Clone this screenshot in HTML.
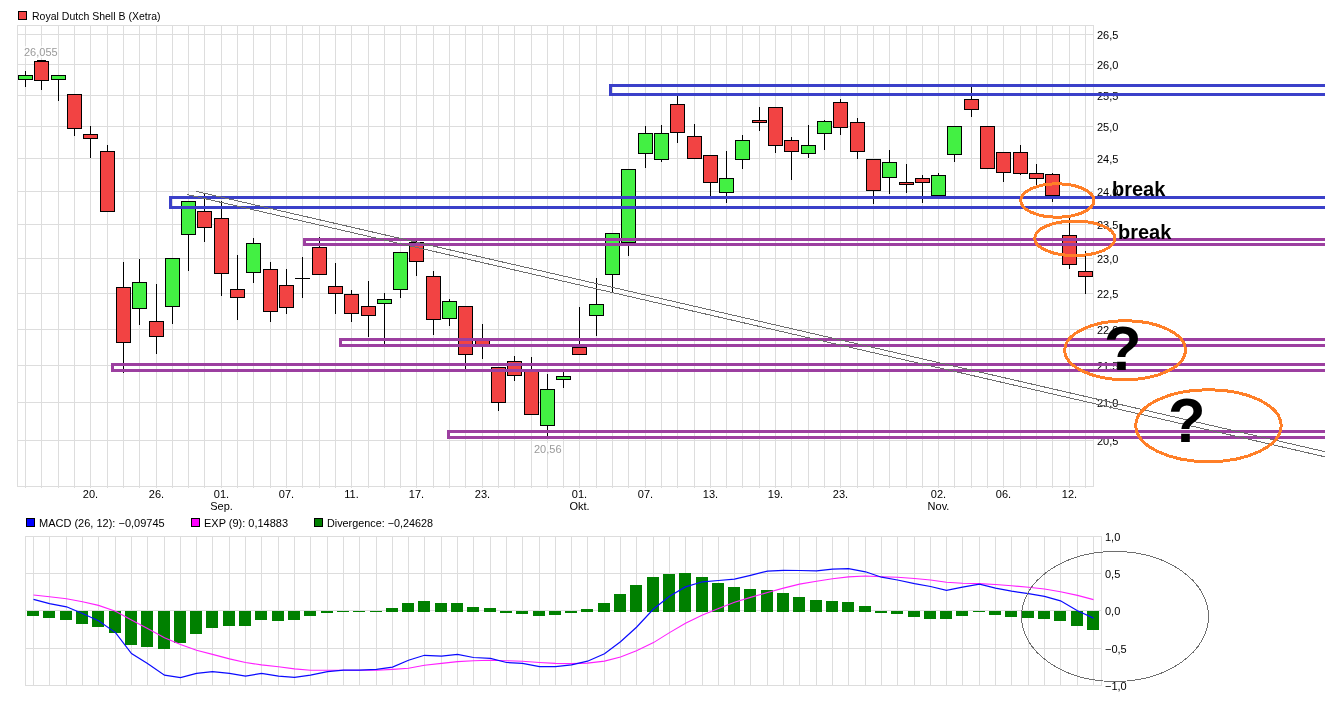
<!DOCTYPE html>
<html><head><meta charset="utf-8"><title>Royal Dutch Shell B (Xetra)</title>
<style>html,body{margin:0;padding:0;background:#fff;width:1325px;height:716px;overflow:hidden;position:relative;font-family:"Liberation Sans",sans-serif}</style>
</head><body>
<svg width="1325" height="716" viewBox="0 0 1325 716" style="position:absolute;left:0;top:0;will-change:transform">
<path d="M17 34.5H1093 M17 64.5H1093 M17 95.5H1093 M17 126.5H1093 M17 158.5H1093 M17 191.5H1093 M17 224.5H1093 M17 258.5H1093 M17 293.5H1093 M17 329.5H1093 M17 365.5H1093 M17 402.5H1093 M17 440.5H1093 M25.5 25V488 M41.5 25V488 M58.5 25V488 M74.5 25V488 M90.5 25V488 M107.5 25V488 M123.5 25V488 M139.5 25V488 M156.5 25V488 M172.5 25V488 M188.5 25V488 M204.5 25V488 M221.5 25V488 M237.5 25V488 M253.5 25V488 M270.5 25V488 M286.5 25V488 M302.5 25V488 M319.5 25V488 M335.5 25V488 M351.5 25V488 M368.5 25V488 M384.5 25V488 M400.5 25V488 M416.5 25V488 M433.5 25V488 M449.5 25V488 M465.5 25V488 M482.5 25V488 M498.5 25V488 M514.5 25V488 M531.5 25V488 M547.5 25V488 M563.5 25V488 M579.5 25V488 M596.5 25V488 M612.5 25V488 M628.5 25V488 M645.5 25V488 M661.5 25V488 M677.5 25V488 M694.5 25V488 M710.5 25V488 M726.5 25V488 M742.5 25V488 M759.5 25V488 M775.5 25V488 M791.5 25V488 M808.5 25V488 M824.5 25V488 M840.5 25V488 M857.5 25V488 M873.5 25V488 M889.5 25V488 M906.5 25V488 M922.5 25V488 M938.5 25V488 M954.5 25V488 M971.5 25V488 M987.5 25V488 M1003.5 25V488 M1020.5 25V488 M1036.5 25V488 M1052.5 25V488 M1069.5 25V488 M1085.5 25V488" stroke="#dddddd" stroke-width="1" fill="none" shape-rendering="crispEdges"/>
<rect x="17.5" y="25.5" width="1076" height="461" fill="none" stroke="#dddddd" stroke-width="1" shape-rendering="crispEdges"/>
<path d="M25.5 71V87" stroke="#000" stroke-width="1" shape-rendering="crispEdges"/>
<rect x="18.5" y="75.5" width="14" height="4" fill="#43f043" stroke="#000" stroke-width="1" shape-rendering="crispEdges"/>
<path d="M41.5 60V90" stroke="#000" stroke-width="1" shape-rendering="crispEdges"/>
<rect x="34.5" y="61.5" width="14" height="19" fill="#f24343" stroke="#000" stroke-width="1" shape-rendering="crispEdges"/>
<path d="M58.5 75V101" stroke="#000" stroke-width="1" shape-rendering="crispEdges"/>
<rect x="51.5" y="75.5" width="14" height="4" fill="#43f043" stroke="#000" stroke-width="1" shape-rendering="crispEdges"/>
<path d="M74.5 94V136" stroke="#000" stroke-width="1" shape-rendering="crispEdges"/>
<rect x="67.5" y="94.5" width="14" height="34" fill="#f24343" stroke="#000" stroke-width="1" shape-rendering="crispEdges"/>
<path d="M90.5 126V158" stroke="#000" stroke-width="1" shape-rendering="crispEdges"/>
<rect x="83.5" y="134.5" width="14" height="4" fill="#f24343" stroke="#000" stroke-width="1" shape-rendering="crispEdges"/>
<path d="M107.5 145V212" stroke="#000" stroke-width="1" shape-rendering="crispEdges"/>
<rect x="100.5" y="151.5" width="14" height="60" fill="#f24343" stroke="#000" stroke-width="1" shape-rendering="crispEdges"/>
<path d="M123.5 262V373" stroke="#000" stroke-width="1" shape-rendering="crispEdges"/>
<rect x="116.5" y="287.5" width="14" height="55" fill="#f24343" stroke="#000" stroke-width="1" shape-rendering="crispEdges"/>
<path d="M139.5 259V325" stroke="#000" stroke-width="1" shape-rendering="crispEdges"/>
<rect x="132.5" y="282.5" width="14" height="26" fill="#43f043" stroke="#000" stroke-width="1" shape-rendering="crispEdges"/>
<path d="M156.5 284V354" stroke="#000" stroke-width="1" shape-rendering="crispEdges"/>
<rect x="149.5" y="321.5" width="14" height="15" fill="#f24343" stroke="#000" stroke-width="1" shape-rendering="crispEdges"/>
<path d="M172.5 258V324" stroke="#000" stroke-width="1" shape-rendering="crispEdges"/>
<rect x="165.5" y="258.5" width="14" height="48" fill="#43f043" stroke="#000" stroke-width="1" shape-rendering="crispEdges"/>
<path d="M188.5 201V271" stroke="#000" stroke-width="1" shape-rendering="crispEdges"/>
<rect x="181.5" y="201.5" width="14" height="33" fill="#43f043" stroke="#000" stroke-width="1" shape-rendering="crispEdges"/>
<path d="M204.5 193V242" stroke="#000" stroke-width="1" shape-rendering="crispEdges"/>
<rect x="197.5" y="211.5" width="14" height="16" fill="#f24343" stroke="#000" stroke-width="1" shape-rendering="crispEdges"/>
<path d="M221.5 201V296" stroke="#000" stroke-width="1" shape-rendering="crispEdges"/>
<rect x="214.5" y="218.5" width="14" height="55" fill="#f24343" stroke="#000" stroke-width="1" shape-rendering="crispEdges"/>
<path d="M237.5 255V320" stroke="#000" stroke-width="1" shape-rendering="crispEdges"/>
<rect x="230.5" y="289.5" width="14" height="8" fill="#f24343" stroke="#000" stroke-width="1" shape-rendering="crispEdges"/>
<path d="M253.5 238V283" stroke="#000" stroke-width="1" shape-rendering="crispEdges"/>
<rect x="246.5" y="243.5" width="14" height="29" fill="#43f043" stroke="#000" stroke-width="1" shape-rendering="crispEdges"/>
<path d="M270.5 262V322" stroke="#000" stroke-width="1" shape-rendering="crispEdges"/>
<rect x="263.5" y="269.5" width="14" height="42" fill="#f24343" stroke="#000" stroke-width="1" shape-rendering="crispEdges"/>
<path d="M286.5 269V314" stroke="#000" stroke-width="1" shape-rendering="crispEdges"/>
<rect x="279.5" y="285.5" width="14" height="22" fill="#f24343" stroke="#000" stroke-width="1" shape-rendering="crispEdges"/>
<path d="M302.5 257V298" stroke="#000" stroke-width="1" shape-rendering="crispEdges"/>
<path d="M295 278.5H310" stroke="#000" stroke-width="1" shape-rendering="crispEdges"/>
<path d="M319.5 237V275" stroke="#000" stroke-width="1" shape-rendering="crispEdges"/>
<rect x="312.5" y="247.5" width="14" height="27" fill="#f24343" stroke="#000" stroke-width="1" shape-rendering="crispEdges"/>
<path d="M335.5 263V314" stroke="#000" stroke-width="1" shape-rendering="crispEdges"/>
<rect x="328.5" y="286.5" width="14" height="7" fill="#f24343" stroke="#000" stroke-width="1" shape-rendering="crispEdges"/>
<path d="M351.5 290V322" stroke="#000" stroke-width="1" shape-rendering="crispEdges"/>
<rect x="344.5" y="294.5" width="14" height="19" fill="#f24343" stroke="#000" stroke-width="1" shape-rendering="crispEdges"/>
<path d="M368.5 281V337" stroke="#000" stroke-width="1" shape-rendering="crispEdges"/>
<rect x="361.5" y="306.5" width="14" height="9" fill="#f24343" stroke="#000" stroke-width="1" shape-rendering="crispEdges"/>
<path d="M384.5 293V344" stroke="#000" stroke-width="1" shape-rendering="crispEdges"/>
<rect x="377.5" y="299.5" width="14" height="4" fill="#43f043" stroke="#000" stroke-width="1" shape-rendering="crispEdges"/>
<path d="M400.5 252V298" stroke="#000" stroke-width="1" shape-rendering="crispEdges"/>
<rect x="393.5" y="252.5" width="14" height="37" fill="#43f043" stroke="#000" stroke-width="1" shape-rendering="crispEdges"/>
<path d="M416.5 241V276" stroke="#000" stroke-width="1" shape-rendering="crispEdges"/>
<rect x="409.5" y="242.5" width="14" height="19" fill="#f24343" stroke="#000" stroke-width="1" shape-rendering="crispEdges"/>
<path d="M433.5 271V335" stroke="#000" stroke-width="1" shape-rendering="crispEdges"/>
<rect x="426.5" y="276.5" width="14" height="43" fill="#f24343" stroke="#000" stroke-width="1" shape-rendering="crispEdges"/>
<path d="M449.5 299V326" stroke="#000" stroke-width="1" shape-rendering="crispEdges"/>
<rect x="442.5" y="301.5" width="14" height="17" fill="#43f043" stroke="#000" stroke-width="1" shape-rendering="crispEdges"/>
<path d="M465.5 306V369" stroke="#000" stroke-width="1" shape-rendering="crispEdges"/>
<rect x="458.5" y="306.5" width="14" height="48" fill="#f24343" stroke="#000" stroke-width="1" shape-rendering="crispEdges"/>
<path d="M482.5 324V359" stroke="#000" stroke-width="1" shape-rendering="crispEdges"/>
<rect x="475.5" y="340.5" width="14" height="5" fill="#f24343" stroke="#000" stroke-width="1" shape-rendering="crispEdges"/>
<path d="M498.5 367V411" stroke="#000" stroke-width="1" shape-rendering="crispEdges"/>
<rect x="491.5" y="367.5" width="14" height="35" fill="#f24343" stroke="#000" stroke-width="1" shape-rendering="crispEdges"/>
<path d="M514.5 356V381" stroke="#000" stroke-width="1" shape-rendering="crispEdges"/>
<rect x="507.5" y="361.5" width="14" height="14" fill="#f24343" stroke="#000" stroke-width="1" shape-rendering="crispEdges"/>
<path d="M531.5 357V415" stroke="#000" stroke-width="1" shape-rendering="crispEdges"/>
<rect x="524.5" y="371.5" width="14" height="43" fill="#f24343" stroke="#000" stroke-width="1" shape-rendering="crispEdges"/>
<path d="M547.5 374V436" stroke="#000" stroke-width="1" shape-rendering="crispEdges"/>
<rect x="540.5" y="389.5" width="14" height="36" fill="#43f043" stroke="#000" stroke-width="1" shape-rendering="crispEdges"/>
<path d="M563.5 371V388" stroke="#000" stroke-width="1" shape-rendering="crispEdges"/>
<rect x="556.5" y="376.5" width="14" height="3" fill="#43f043" stroke="#000" stroke-width="1" shape-rendering="crispEdges"/>
<path d="M579.5 307V355" stroke="#000" stroke-width="1" shape-rendering="crispEdges"/>
<rect x="572.5" y="347.5" width="14" height="7" fill="#f24343" stroke="#000" stroke-width="1" shape-rendering="crispEdges"/>
<path d="M596.5 278V336" stroke="#000" stroke-width="1" shape-rendering="crispEdges"/>
<rect x="589.5" y="304.5" width="14" height="11" fill="#43f043" stroke="#000" stroke-width="1" shape-rendering="crispEdges"/>
<path d="M612.5 233V292" stroke="#000" stroke-width="1" shape-rendering="crispEdges"/>
<rect x="605.5" y="233.5" width="14" height="41" fill="#43f043" stroke="#000" stroke-width="1" shape-rendering="crispEdges"/>
<path d="M628.5 169V256" stroke="#000" stroke-width="1" shape-rendering="crispEdges"/>
<rect x="621.5" y="169.5" width="14" height="73" fill="#43f043" stroke="#000" stroke-width="1" shape-rendering="crispEdges"/>
<path d="M645.5 126V168" stroke="#000" stroke-width="1" shape-rendering="crispEdges"/>
<rect x="638.5" y="133.5" width="14" height="20" fill="#43f043" stroke="#000" stroke-width="1" shape-rendering="crispEdges"/>
<path d="M661.5 125V162" stroke="#000" stroke-width="1" shape-rendering="crispEdges"/>
<rect x="654.5" y="133.5" width="14" height="26" fill="#43f043" stroke="#000" stroke-width="1" shape-rendering="crispEdges"/>
<path d="M677.5 96V143" stroke="#000" stroke-width="1" shape-rendering="crispEdges"/>
<rect x="670.5" y="104.5" width="14" height="28" fill="#f24343" stroke="#000" stroke-width="1" shape-rendering="crispEdges"/>
<path d="M694.5 124V159" stroke="#000" stroke-width="1" shape-rendering="crispEdges"/>
<rect x="687.5" y="136.5" width="14" height="22" fill="#f24343" stroke="#000" stroke-width="1" shape-rendering="crispEdges"/>
<path d="M710.5 155V196" stroke="#000" stroke-width="1" shape-rendering="crispEdges"/>
<rect x="703.5" y="155.5" width="14" height="27" fill="#f24343" stroke="#000" stroke-width="1" shape-rendering="crispEdges"/>
<path d="M726.5 151V203" stroke="#000" stroke-width="1" shape-rendering="crispEdges"/>
<rect x="719.5" y="178.5" width="14" height="14" fill="#43f043" stroke="#000" stroke-width="1" shape-rendering="crispEdges"/>
<path d="M742.5 135V169" stroke="#000" stroke-width="1" shape-rendering="crispEdges"/>
<rect x="735.5" y="140.5" width="14" height="19" fill="#43f043" stroke="#000" stroke-width="1" shape-rendering="crispEdges"/>
<path d="M759.5 107V131" stroke="#000" stroke-width="1" shape-rendering="crispEdges"/>
<rect x="752.5" y="120.5" width="14" height="2" fill="#f24343" stroke="#000" stroke-width="1" shape-rendering="crispEdges"/>
<path d="M775.5 107V153" stroke="#000" stroke-width="1" shape-rendering="crispEdges"/>
<rect x="768.5" y="107.5" width="14" height="38" fill="#f24343" stroke="#000" stroke-width="1" shape-rendering="crispEdges"/>
<path d="M791.5 137V180" stroke="#000" stroke-width="1" shape-rendering="crispEdges"/>
<rect x="784.5" y="140.5" width="14" height="11" fill="#f24343" stroke="#000" stroke-width="1" shape-rendering="crispEdges"/>
<path d="M808.5 125V158" stroke="#000" stroke-width="1" shape-rendering="crispEdges"/>
<rect x="801.5" y="145.5" width="14" height="8" fill="#43f043" stroke="#000" stroke-width="1" shape-rendering="crispEdges"/>
<path d="M824.5 120V150" stroke="#000" stroke-width="1" shape-rendering="crispEdges"/>
<rect x="817.5" y="121.5" width="14" height="12" fill="#43f043" stroke="#000" stroke-width="1" shape-rendering="crispEdges"/>
<path d="M840.5 99V135" stroke="#000" stroke-width="1" shape-rendering="crispEdges"/>
<rect x="833.5" y="102.5" width="14" height="25" fill="#f24343" stroke="#000" stroke-width="1" shape-rendering="crispEdges"/>
<path d="M857.5 118V159" stroke="#000" stroke-width="1" shape-rendering="crispEdges"/>
<rect x="850.5" y="122.5" width="14" height="29" fill="#f24343" stroke="#000" stroke-width="1" shape-rendering="crispEdges"/>
<path d="M873.5 159V204" stroke="#000" stroke-width="1" shape-rendering="crispEdges"/>
<rect x="866.5" y="159.5" width="14" height="31" fill="#f24343" stroke="#000" stroke-width="1" shape-rendering="crispEdges"/>
<path d="M889.5 150V194" stroke="#000" stroke-width="1" shape-rendering="crispEdges"/>
<rect x="882.5" y="162.5" width="14" height="15" fill="#43f043" stroke="#000" stroke-width="1" shape-rendering="crispEdges"/>
<path d="M906.5 164V193" stroke="#000" stroke-width="1" shape-rendering="crispEdges"/>
<rect x="899.5" y="182.5" width="14" height="2" fill="#f24343" stroke="#000" stroke-width="1" shape-rendering="crispEdges"/>
<path d="M922.5 175V203" stroke="#000" stroke-width="1" shape-rendering="crispEdges"/>
<rect x="915.5" y="178.5" width="14" height="4" fill="#f24343" stroke="#000" stroke-width="1" shape-rendering="crispEdges"/>
<path d="M938.5 173V199" stroke="#000" stroke-width="1" shape-rendering="crispEdges"/>
<rect x="931.5" y="175.5" width="14" height="20" fill="#43f043" stroke="#000" stroke-width="1" shape-rendering="crispEdges"/>
<path d="M954.5 126V162" stroke="#000" stroke-width="1" shape-rendering="crispEdges"/>
<rect x="947.5" y="126.5" width="14" height="28" fill="#43f043" stroke="#000" stroke-width="1" shape-rendering="crispEdges"/>
<path d="M971.5 87V117" stroke="#000" stroke-width="1" shape-rendering="crispEdges"/>
<rect x="964.5" y="99.5" width="14" height="10" fill="#f24343" stroke="#000" stroke-width="1" shape-rendering="crispEdges"/>
<path d="M987.5 126V169" stroke="#000" stroke-width="1" shape-rendering="crispEdges"/>
<rect x="980.5" y="126.5" width="14" height="42" fill="#f24343" stroke="#000" stroke-width="1" shape-rendering="crispEdges"/>
<path d="M1003.5 152V182" stroke="#000" stroke-width="1" shape-rendering="crispEdges"/>
<rect x="996.5" y="152.5" width="14" height="20" fill="#f24343" stroke="#000" stroke-width="1" shape-rendering="crispEdges"/>
<path d="M1020.5 145V175" stroke="#000" stroke-width="1" shape-rendering="crispEdges"/>
<rect x="1013.5" y="152.5" width="14" height="21" fill="#f24343" stroke="#000" stroke-width="1" shape-rendering="crispEdges"/>
<path d="M1036.5 164V186" stroke="#000" stroke-width="1" shape-rendering="crispEdges"/>
<rect x="1029.5" y="173.5" width="14" height="5" fill="#f24343" stroke="#000" stroke-width="1" shape-rendering="crispEdges"/>
<path d="M1052.5 173V202" stroke="#000" stroke-width="1" shape-rendering="crispEdges"/>
<rect x="1045.5" y="174.5" width="14" height="21" fill="#f24343" stroke="#000" stroke-width="1" shape-rendering="crispEdges"/>
<path d="M1069.5 218V269" stroke="#000" stroke-width="1" shape-rendering="crispEdges"/>
<rect x="1062.5" y="235.5" width="14" height="29" fill="#f24343" stroke="#000" stroke-width="1" shape-rendering="crispEdges"/>
<path d="M1085.5 251V294" stroke="#000" stroke-width="1" shape-rendering="crispEdges"/>
<rect x="1078.5" y="271.5" width="14" height="5" fill="#f24343" stroke="#000" stroke-width="1" shape-rendering="crispEdges"/>
<rect x="37" y="60" width="9" height="1" fill="#000"/>
<rect x="23" y="46" width="34" height="12" fill="#fff" fill-opacity="0.7"/>
<rect x="532" y="443" width="30" height="12" fill="#fff" fill-opacity="0.7"/>
<text x="24" y="56" font-family="Liberation Sans, sans-serif" font-size="11" fill="#9a9a9a">26,055</text>
<text x="534" y="453" font-family="Liberation Sans, sans-serif" font-size="11" fill="#9a9a9a">20,56</text>
<text x="1097" y="39" font-family="Liberation Sans, sans-serif" font-size="11" fill="#000">26,5</text>
<text x="1097" y="69" font-family="Liberation Sans, sans-serif" font-size="11" fill="#000">26,0</text>
<text x="1097" y="100" font-family="Liberation Sans, sans-serif" font-size="11" fill="#000">25,5</text>
<text x="1097" y="131" font-family="Liberation Sans, sans-serif" font-size="11" fill="#000">25,0</text>
<text x="1097" y="163" font-family="Liberation Sans, sans-serif" font-size="11" fill="#000">24,5</text>
<text x="1097" y="196" font-family="Liberation Sans, sans-serif" font-size="11" fill="#000">24,0</text>
<text x="1097" y="229" font-family="Liberation Sans, sans-serif" font-size="11" fill="#000">23,5</text>
<text x="1097" y="263" font-family="Liberation Sans, sans-serif" font-size="11" fill="#000">23,0</text>
<text x="1097" y="298" font-family="Liberation Sans, sans-serif" font-size="11" fill="#000">22,5</text>
<text x="1097" y="334" font-family="Liberation Sans, sans-serif" font-size="11" fill="#000">22,0</text>
<text x="1097" y="370" font-family="Liberation Sans, sans-serif" font-size="11" fill="#000">21,5</text>
<text x="1097" y="407" font-family="Liberation Sans, sans-serif" font-size="11" fill="#000">21,0</text>
<text x="1097" y="445" font-family="Liberation Sans, sans-serif" font-size="11" fill="#000">20,5</text>
<path d="M609 84H1335V87H612V93H1335V96H609Z" fill="#3b40c9" shape-rendering="crispEdges"/>
<path d="M169 196H1335V199H172V206H1335V209H169Z" fill="#3b40c9" shape-rendering="crispEdges"/>
<path d="M303 238H1335V241H306V243H1335V246H303Z" fill="#9c3fa0" shape-rendering="crispEdges"/>
<path d="M339 338H1335V341H342V344H1335V347H339Z" fill="#9c3fa0" shape-rendering="crispEdges"/>
<path d="M111 363H1335V366H114V369H1335V372H111Z" fill="#9c3fa0" shape-rendering="crispEdges"/>
<path d="M447 430H1335V433H450V436H1335V439H447Z" fill="#9c3fa0" shape-rendering="crispEdges"/>
<path d="M196 191.3L1325 451.7M187 194.5L1325 456.8" stroke="#6e6e6e" stroke-width="1" fill="none" shape-rendering="crispEdges"/>
<text x="90.5" y="498" text-anchor="middle" font-family="Liberation Sans, sans-serif" font-size="11" fill="#000">20.</text>
<text x="156.5" y="498" text-anchor="middle" font-family="Liberation Sans, sans-serif" font-size="11" fill="#000">26.</text>
<text x="221.5" y="498" text-anchor="middle" font-family="Liberation Sans, sans-serif" font-size="11" fill="#000">01.</text>
<text x="221.5" y="510" text-anchor="middle" font-family="Liberation Sans, sans-serif" font-size="11" fill="#000">Sep.</text>
<text x="286.5" y="498" text-anchor="middle" font-family="Liberation Sans, sans-serif" font-size="11" fill="#000">07.</text>
<text x="351.5" y="498" text-anchor="middle" font-family="Liberation Sans, sans-serif" font-size="11" fill="#000">11.</text>
<text x="416.5" y="498" text-anchor="middle" font-family="Liberation Sans, sans-serif" font-size="11" fill="#000">17.</text>
<text x="482.5" y="498" text-anchor="middle" font-family="Liberation Sans, sans-serif" font-size="11" fill="#000">23.</text>
<text x="579.5" y="498" text-anchor="middle" font-family="Liberation Sans, sans-serif" font-size="11" fill="#000">01.</text>
<text x="579.5" y="510" text-anchor="middle" font-family="Liberation Sans, sans-serif" font-size="11" fill="#000">Okt.</text>
<text x="645.5" y="498" text-anchor="middle" font-family="Liberation Sans, sans-serif" font-size="11" fill="#000">07.</text>
<text x="710.5" y="498" text-anchor="middle" font-family="Liberation Sans, sans-serif" font-size="11" fill="#000">13.</text>
<text x="775.5" y="498" text-anchor="middle" font-family="Liberation Sans, sans-serif" font-size="11" fill="#000">19.</text>
<text x="840.5" y="498" text-anchor="middle" font-family="Liberation Sans, sans-serif" font-size="11" fill="#000">23.</text>
<text x="938.5" y="498" text-anchor="middle" font-family="Liberation Sans, sans-serif" font-size="11" fill="#000">02.</text>
<text x="938.5" y="510" text-anchor="middle" font-family="Liberation Sans, sans-serif" font-size="11" fill="#000">Nov.</text>
<text x="1003.5" y="498" text-anchor="middle" font-family="Liberation Sans, sans-serif" font-size="11" fill="#000">06.</text>
<text x="1069.5" y="498" text-anchor="middle" font-family="Liberation Sans, sans-serif" font-size="11" fill="#000">12.</text>
<ellipse cx="1057.3" cy="200.5" rx="36.6" ry="16.7" fill="none" stroke="#ff7f27" stroke-width="3" shape-rendering="crispEdges"/>
<ellipse cx="1074.8" cy="238.3" rx="40.1" ry="17.3" fill="none" stroke="#ff7f27" stroke-width="3" shape-rendering="crispEdges"/>
<ellipse cx="1125.1" cy="350.2" rx="60.3" ry="29.5" fill="none" stroke="#ff7f27" stroke-width="3" shape-rendering="crispEdges"/>
<ellipse cx="1208.5" cy="425.7" rx="72.7" ry="36" fill="none" stroke="#ff7f27" stroke-width="3" shape-rendering="crispEdges"/>
<text x="1112" y="195.5" font-family="Liberation Sans, sans-serif" font-weight="bold" font-size="20" fill="#000">break</text>
<text x="1118" y="238.5" font-family="Liberation Sans, sans-serif" font-weight="bold" font-size="20" fill="#000">break</text>
<text transform="translate(1104,369.5) scale(0.975,1)" font-family="Liberation Sans, sans-serif" font-weight="bold" font-size="63" fill="#000">?</text>
<text transform="translate(1168,441.5) scale(0.975,1)" font-family="Liberation Sans, sans-serif" font-weight="bold" font-size="63" fill="#000">?</text>
<path d="M25 573.5H1101 M25 610.5H1101 M25 648.5H1101 M33.5 536V686 M49.5 536V686 M66.5 536V686 M82.5 536V686 M98.5 536V686 M115.5 536V686 M131.5 536V686 M147.5 536V686 M164.5 536V686 M180.5 536V686 M196.5 536V686 M212.5 536V686 M229.5 536V686 M245.5 536V686 M261.5 536V686 M278.5 536V686 M294.5 536V686 M310.5 536V686 M327.5 536V686 M343.5 536V686 M359.5 536V686 M376.5 536V686 M392.5 536V686 M408.5 536V686 M424.5 536V686 M441.5 536V686 M457.5 536V686 M473.5 536V686 M490.5 536V686 M506.5 536V686 M522.5 536V686 M539.5 536V686 M555.5 536V686 M571.5 536V686 M587.5 536V686 M604.5 536V686 M620.5 536V686 M636.5 536V686 M653.5 536V686 M669.5 536V686 M685.5 536V686 M702.5 536V686 M718.5 536V686 M734.5 536V686 M750.5 536V686 M767.5 536V686 M783.5 536V686 M799.5 536V686 M816.5 536V686 M832.5 536V686 M848.5 536V686 M865.5 536V686 M881.5 536V686 M897.5 536V686 M914.5 536V686 M930.5 536V686 M946.5 536V686 M962.5 536V686 M979.5 536V686 M995.5 536V686 M1011.5 536V686 M1028.5 536V686 M1044.5 536V686 M1060.5 536V686 M1077.5 536V686 M1093.5 536V686" stroke="#dddddd" stroke-width="1" fill="none" shape-rendering="crispEdges"/>
<rect x="25.5" y="536.5" width="1076" height="149" fill="none" stroke="#dddddd" stroke-width="1" shape-rendering="crispEdges"/>
<rect x="27" y="611" width="12" height="5" fill="#008000" shape-rendering="crispEdges"/>
<rect x="43" y="611" width="12" height="7" fill="#008000" shape-rendering="crispEdges"/>
<rect x="60" y="611" width="12" height="9" fill="#008000" shape-rendering="crispEdges"/>
<rect x="76" y="611" width="12" height="13" fill="#008000" shape-rendering="crispEdges"/>
<rect x="92" y="611" width="12" height="16" fill="#008000" shape-rendering="crispEdges"/>
<rect x="109" y="611" width="12" height="22" fill="#008000" shape-rendering="crispEdges"/>
<rect x="125" y="611" width="12" height="34" fill="#008000" shape-rendering="crispEdges"/>
<rect x="141" y="611" width="12" height="36" fill="#008000" shape-rendering="crispEdges"/>
<rect x="158" y="611" width="12" height="38" fill="#008000" shape-rendering="crispEdges"/>
<rect x="174" y="611" width="12" height="32" fill="#008000" shape-rendering="crispEdges"/>
<rect x="190" y="611" width="12" height="23" fill="#008000" shape-rendering="crispEdges"/>
<rect x="206" y="611" width="12" height="17" fill="#008000" shape-rendering="crispEdges"/>
<rect x="223" y="611" width="12" height="15" fill="#008000" shape-rendering="crispEdges"/>
<rect x="239" y="611" width="12" height="15" fill="#008000" shape-rendering="crispEdges"/>
<rect x="255" y="611" width="12" height="9" fill="#008000" shape-rendering="crispEdges"/>
<rect x="272" y="611" width="12" height="10" fill="#008000" shape-rendering="crispEdges"/>
<rect x="288" y="611" width="12" height="9" fill="#008000" shape-rendering="crispEdges"/>
<rect x="304" y="611" width="12" height="5" fill="#008000" shape-rendering="crispEdges"/>
<rect x="321" y="611" width="12" height="2" fill="#008000" shape-rendering="crispEdges"/>
<rect x="337" y="611" width="12" height="1" fill="#008000" shape-rendering="crispEdges"/>
<rect x="353" y="611" width="12" height="1" fill="#008000" shape-rendering="crispEdges"/>
<rect x="370" y="611" width="12" height="1" fill="#008000" shape-rendering="crispEdges"/>
<rect x="386" y="608" width="12" height="4" fill="#008000" shape-rendering="crispEdges"/>
<rect x="402" y="603" width="12" height="9" fill="#008000" shape-rendering="crispEdges"/>
<rect x="418" y="601" width="12" height="11" fill="#008000" shape-rendering="crispEdges"/>
<rect x="435" y="603" width="12" height="9" fill="#008000" shape-rendering="crispEdges"/>
<rect x="451" y="603" width="12" height="9" fill="#008000" shape-rendering="crispEdges"/>
<rect x="467" y="607" width="12" height="5" fill="#008000" shape-rendering="crispEdges"/>
<rect x="484" y="608" width="12" height="4" fill="#008000" shape-rendering="crispEdges"/>
<rect x="500" y="611" width="12" height="2" fill="#008000" shape-rendering="crispEdges"/>
<rect x="516" y="611" width="12" height="3" fill="#008000" shape-rendering="crispEdges"/>
<rect x="533" y="611" width="12" height="5" fill="#008000" shape-rendering="crispEdges"/>
<rect x="549" y="611" width="12" height="4" fill="#008000" shape-rendering="crispEdges"/>
<rect x="565" y="611" width="12" height="2" fill="#008000" shape-rendering="crispEdges"/>
<rect x="581" y="609" width="12" height="3" fill="#008000" shape-rendering="crispEdges"/>
<rect x="598" y="603" width="12" height="9" fill="#008000" shape-rendering="crispEdges"/>
<rect x="614" y="594" width="12" height="18" fill="#008000" shape-rendering="crispEdges"/>
<rect x="630" y="585" width="12" height="27" fill="#008000" shape-rendering="crispEdges"/>
<rect x="647" y="577" width="12" height="35" fill="#008000" shape-rendering="crispEdges"/>
<rect x="663" y="574" width="12" height="38" fill="#008000" shape-rendering="crispEdges"/>
<rect x="679" y="573" width="12" height="39" fill="#008000" shape-rendering="crispEdges"/>
<rect x="696" y="577" width="12" height="35" fill="#008000" shape-rendering="crispEdges"/>
<rect x="712" y="583" width="12" height="29" fill="#008000" shape-rendering="crispEdges"/>
<rect x="728" y="587" width="12" height="25" fill="#008000" shape-rendering="crispEdges"/>
<rect x="744" y="589" width="12" height="23" fill="#008000" shape-rendering="crispEdges"/>
<rect x="761" y="590" width="12" height="22" fill="#008000" shape-rendering="crispEdges"/>
<rect x="777" y="593" width="12" height="19" fill="#008000" shape-rendering="crispEdges"/>
<rect x="793" y="597" width="12" height="15" fill="#008000" shape-rendering="crispEdges"/>
<rect x="810" y="600" width="12" height="12" fill="#008000" shape-rendering="crispEdges"/>
<rect x="826" y="601" width="12" height="11" fill="#008000" shape-rendering="crispEdges"/>
<rect x="842" y="602" width="12" height="10" fill="#008000" shape-rendering="crispEdges"/>
<rect x="859" y="606" width="12" height="6" fill="#008000" shape-rendering="crispEdges"/>
<rect x="875" y="611" width="12" height="2" fill="#008000" shape-rendering="crispEdges"/>
<rect x="891" y="611" width="12" height="3" fill="#008000" shape-rendering="crispEdges"/>
<rect x="908" y="611" width="12" height="6" fill="#008000" shape-rendering="crispEdges"/>
<rect x="924" y="611" width="12" height="8" fill="#008000" shape-rendering="crispEdges"/>
<rect x="940" y="611" width="12" height="8" fill="#008000" shape-rendering="crispEdges"/>
<rect x="956" y="611" width="12" height="5" fill="#008000" shape-rendering="crispEdges"/>
<rect x="973" y="611" width="12" height="1" fill="#008000" shape-rendering="crispEdges"/>
<rect x="989" y="611" width="12" height="4" fill="#008000" shape-rendering="crispEdges"/>
<rect x="1005" y="611" width="12" height="6" fill="#008000" shape-rendering="crispEdges"/>
<rect x="1022" y="611" width="12" height="7" fill="#008000" shape-rendering="crispEdges"/>
<rect x="1038" y="611" width="12" height="8" fill="#008000" shape-rendering="crispEdges"/>
<rect x="1054" y="611" width="12" height="10" fill="#008000" shape-rendering="crispEdges"/>
<rect x="1071" y="611" width="12" height="15" fill="#008000" shape-rendering="crispEdges"/>
<rect x="1087" y="611" width="12" height="19" fill="#008000" shape-rendering="crispEdges"/>
<polyline points="33.5,595 49.5,596.8 66.5,598.7 82.5,601.7 98.5,605.4 115.5,611.2 131.5,619.9 147.5,628.6 164.5,637.7 180.5,644.4 196.5,650.2 212.5,654.4 229.5,658.9 245.5,662.5 261.5,664.9 278.5,666.7 294.5,668.9 310.5,670.2 327.5,670.2 343.5,670.2 359.5,670.3 376.5,670.2 392.5,669.4 408.5,668.3 424.5,665.3 441.5,663.4 457.5,661.6 473.5,660.7 490.5,660.2 506.5,660.7 522.5,661.3 539.5,662.5 555.5,663.4 571.5,663.6 587.5,663.1 604.5,661.1 620.5,657.1 636.5,650.7 653.5,642.6 669.5,632.6 685.5,623.2 702.5,615 718.5,608.6 734.5,602.3 750.5,597.4 767.5,592.5 783.5,588.1 799.5,584.1 816.5,581.2 832.5,578.7 848.5,576.9 865.5,576 881.5,576.7 897.5,577.2 914.5,578.5 930.5,580 946.5,582.3 962.5,583.2 979.5,583.6 995.5,584.5 1011.5,585.8 1028.5,587.2 1044.5,589 1060.5,591.8 1077.5,595.4 1093.5,599.6" fill="none" stroke="#ff20ff" stroke-width="1.1"/>
<polyline points="33.5,599.4 49.5,603.6 66.5,606.8 82.5,613.5 98.5,620.8 115.5,632.6 131.5,653.5 147.5,663.4 164.5,675.2 180.5,677.6 196.5,673.4 212.5,671.6 229.5,673.4 245.5,676.2 261.5,673.4 278.5,676.2 294.5,677.4 310.5,675.2 327.5,671.6 343.5,670.2 359.5,670.2 376.5,669.4 392.5,667.1 408.5,660.2 424.5,655.3 441.5,656.2 457.5,654.4 473.5,657.5 490.5,658.4 506.5,662.5 522.5,663.4 539.5,666.7 555.5,666.7 571.5,664.9 587.5,661.2 604.5,653.8 620.5,641.7 636.5,627.2 653.5,609 669.5,596.3 685.5,586.9 702.5,581.8 718.5,580.5 734.5,579.1 750.5,575.4 767.5,571.1 783.5,570.3 799.5,570.5 816.5,570.9 832.5,569.1 848.5,568.7 865.5,571.8 881.5,577.2 897.5,580 914.5,583.6 930.5,586.5 946.5,590.4 962.5,587.2 979.5,584.1 995.5,588.1 1011.5,591.2 1028.5,593.6 1044.5,596.3 1060.5,600.8 1077.5,610.8 1093.5,618.1" fill="none" stroke="#0a0aff" stroke-width="1.2"/>
<text x="1105" y="541" font-family="Liberation Sans, sans-serif" font-size="11" fill="#000">1,0</text>
<text x="1105" y="578" font-family="Liberation Sans, sans-serif" font-size="11" fill="#000">0,5</text>
<text x="1105" y="615" font-family="Liberation Sans, sans-serif" font-size="11" fill="#000">0,0</text>
<text x="1105" y="653" font-family="Liberation Sans, sans-serif" font-size="11" fill="#000">−0,5</text>
<text x="1105" y="690" font-family="Liberation Sans, sans-serif" font-size="11" fill="#000">−1,0</text>
<ellipse cx="1115" cy="616.5" rx="93.5" ry="65" fill="none" stroke="#6e6e6e" stroke-width="1" shape-rendering="crispEdges"/>
<rect x="18.5" y="11.5" width="8" height="8" fill="#f24343" stroke="#000" stroke-width="1" shape-rendering="crispEdges"/>
<text x="32" y="20" font-family="Liberation Sans, sans-serif" font-size="11" fill="#000" textLength="128.5" lengthAdjust="spacingAndGlyphs">Royal Dutch Shell B (Xetra)</text>
<rect x="26.5" y="518.5" width="8" height="8" fill="#0000ff" stroke="#000" stroke-width="1" shape-rendering="crispEdges"/>
<text x="39" y="527" font-family="Liberation Sans, sans-serif" font-size="11" fill="#000">MACD (26, 12): −0,09745</text>
<rect x="191.5" y="518.5" width="8" height="8" fill="#ff00ff" stroke="#000" stroke-width="1" shape-rendering="crispEdges"/>
<text x="204" y="527" font-family="Liberation Sans, sans-serif" font-size="11" fill="#000" textLength="84" lengthAdjust="spacingAndGlyphs">EXP (9): 0,14883</text>
<rect x="314.5" y="518.5" width="8" height="8" fill="#008000" stroke="#000" stroke-width="1" shape-rendering="crispEdges"/>
<text x="327" y="527" font-family="Liberation Sans, sans-serif" font-size="11" fill="#000" textLength="106" lengthAdjust="spacingAndGlyphs">Divergence: −0,24628</text>
</svg>
</body></html>
